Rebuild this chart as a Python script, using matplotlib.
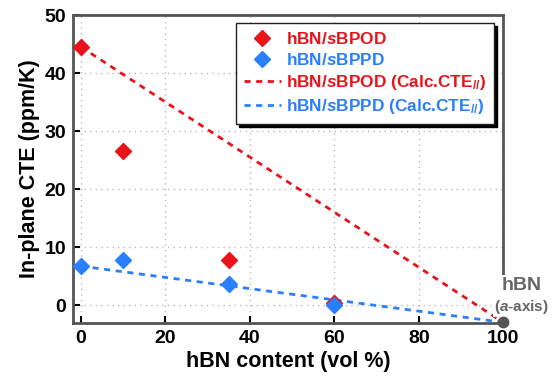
import matplotlib
matplotlib.use("Agg")
import matplotlib.pyplot as plt

plt.rcParams['font.family'] = ['Liberation Sans', 'DejaVu Sans']
plt.rcParams['font.weight'] = 'bold'
plt.rcParams['mathtext.fontset'] = 'custom'
plt.rcParams['mathtext.rm'] = 'Liberation Sans:bold'
plt.rcParams['mathtext.bf'] = 'Liberation Sans:bold'
plt.rcParams['mathtext.it'] = 'Liberation Sans:italic:bold'
plt.rcParams['mathtext.bfit'] = 'Liberation Sans:italic:bold'

# data
content = [0, 10, 35, 60]
cte_sbpod = [44.5, 26.5, 7.7, 0.4]
cte_sbppd = [6.7, 7.8, 3.7, 0.0]
calc_x = [0, 100]
calc_sbpod = [44.5, -3.0]
calc_sbppd = [6.7, -3.0]
hbn_x = [100]
hbn_y = [-3.0]

red = '#e8141c'
blue = '#2a7fff'

fig = plt.figure(figsize=(5.53, 3.76), dpi=100)
ax = fig.add_axes([0.132, 0.141, 0.778, 0.819])

dash = (0, (2.2, 2.0))
ax.plot(calc_x, calc_sbpod, ls=dash, color=red, lw=2, zorder=2,
        label=r'hBN/$\mathit{s}$BPOD (Calc.CTE$_{\mathit{//}}$)')
ax.plot(calc_x, calc_sbppd, ls=dash, color=blue, lw=2, zorder=2,
        label=r'hBN/$\mathit{s}$BPPD (Calc.CTE$_{\mathit{//}}$)')
ax.plot(content, cte_sbpod, 'D', color=red, ms=8, ls='none', zorder=3,
        label=r'hBN/$\mathit{s}$BPOD')
ax.plot(content, cte_sbppd, 'D', color=blue, ms=8, ls='none', zorder=4,
        label=r'hBN/$\mathit{s}$BPPD')
ax.plot(hbn_x, hbn_y, 'o', color='#555555', ms=7.5, zorder=6, clip_on=False)

ax.set_xlim(-1.9, 100)
ax.set_ylim(-3.1, 50)
ax.set_xticks([0, 20, 40, 60, 80, 100])
ax.set_yticks([0, 10, 20, 30, 40, 50])
ax.tick_params(direction='in', length=5, width=1.5, labelsize=14, colors='black', pad=5)
for lbl in ax.get_xticklabels() + ax.get_yticklabels():
    lbl.set_fontweight('bold')
ax.grid(True, ls=(0, (1, 3)), color='#bbbbbb', lw=1)
ax.set_axisbelow(True)
for s in ax.spines.values():
    s.set_color('#555555')
    s.set_linewidth(2)

ax.set_xlabel('hBN content (vol %)', fontsize=15.5, fontweight='bold', labelpad=3)
ax.set_ylabel('In-plane CTE (ppm/K)', fontsize=15.5, fontweight='bold', labelpad=3)

handles, labels = ax.get_legend_handles_labels()
order = [2, 3, 0, 1]
leg = ax.legend([handles[i] for i in order], [labels[i] for i in order],
                loc='upper right', bbox_to_anchor=(0.978, 0.974), fontsize=12.4,
                frameon=True, fancybox=False, shadow={'color': 'black', 'alpha': 1},
                handlelength=2.15, handletextpad=0.3, borderpad=0.45,
                labelspacing=0.3, borderaxespad=0)
leg.get_frame().set_edgecolor('#222222')
leg.get_frame().set_linewidth(1.0)
leg.get_frame().set_alpha(1)
cols = [red, blue, red, blue]
for t, c in zip(leg.get_texts(), cols):
    t.set_color(c)

ax.text(104.3, 3.3, 'hBN', color='#666666', fontsize=14, fontweight='bold',
        ha='center', va='center', zorder=5,
        bbox=dict(facecolor='white', edgecolor='none', pad=1.5))
ax.text(104.3, -0.3, r'($\mathit{a}$-axis)', color='#666666', fontsize=11, fontweight='bold',
        ha='center', va='center', zorder=5,
        bbox=dict(facecolor='white', edgecolor='none', pad=0.5))

fig.savefig('out.png', dpi=100)
